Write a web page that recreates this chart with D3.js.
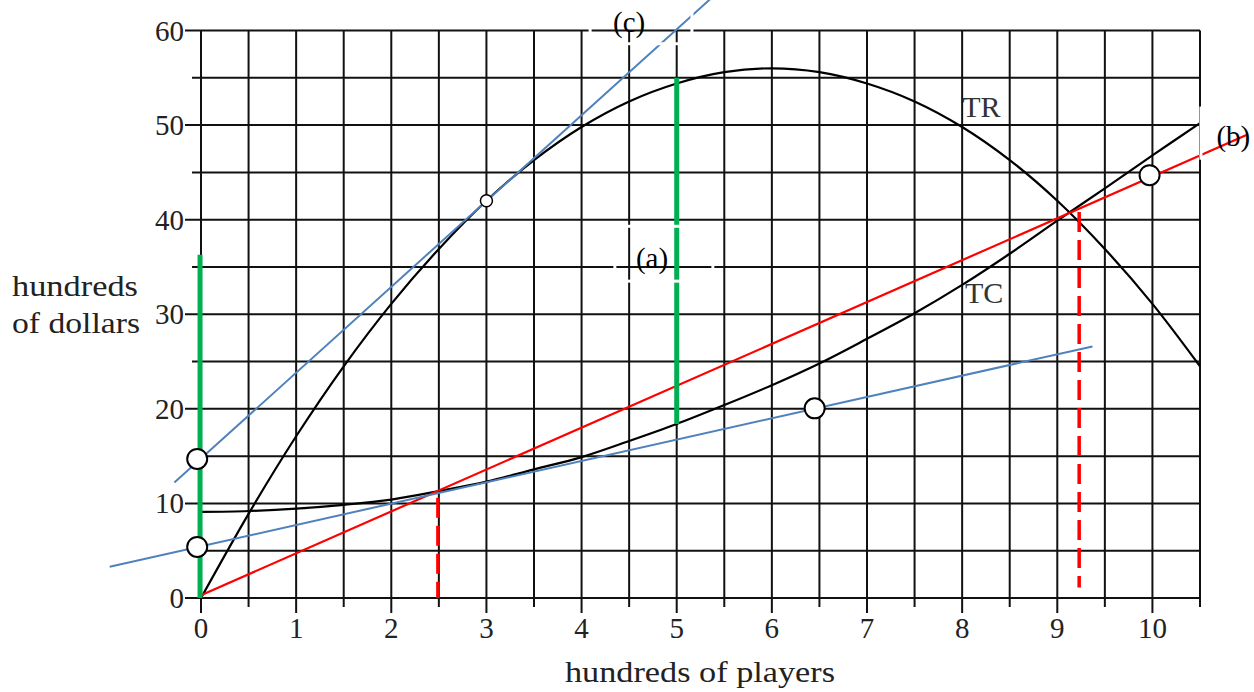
<!DOCTYPE html>
<html>
<head>
<meta charset="utf-8">
<script src="https://cdn.jsdelivr.net/npm/d3@7"></script>
<style>
  body { margin: 0; background: #fff; }
  svg { display: block; }
</style>
</head>
<body>
<svg id="chart" width="1254" height="692"></svg>
<script>
// values (x in hundreds of players, y in hundreds of dollars)
const playersX = [0, 0.5, 1, 1.5, 2, 2.5, 3, 3.5, 4, 4.5, 5, 5.5, 6, 6.5, 7, 7.5, 8, 8.5, 9, 9.5, 10, 10.5];
const trValues = [0, 8.9, 17.1, 24.5, 31.1, 36.9, 42, 46.3, 49.8, 52.5, 54.4, 55.6, 56, 55.6, 54.4, 52.5, 49.8, 46.3, 42, 36.9, 31.1, 24.5];
const tcValues = [9.1, 9.2, 9.45, 9.85, 10.4, 11.3, 12.3, 13.6, 14.9, 16.6, 18.4, 20.4, 22.5, 24.8, 27.4, 30.1, 33.1, 36.4, 39.9, 43.3, 46.8, 50.2];

const xTickLabels = [0, 1, 2, 3, 4, 5, 6, 7, 8, 9, 10];
const yTickLabels = [0, 10, 20, 30, 40, 50, 60];

const redLine = [[0, 0.3], [11.0, 49.0]];
const blueTangent = [[-0.28, 12.2], [5.35, 63.3]];
const blueLower = [[-0.96, 3.3], [9.37, 26.6]];
const greenBars = [[-0.01, 0, 36.3], [5, 18.4, 55]];
const redDashes = [[2.49, 0, 10.6], [9.23, 1.1, 40.8]];
const dots = [[-0.04, 14.7, 10], [-0.04, 5.4, 10], [6.45, 20.05, 10], [9.97, 44.7, 10], [3, 42, 6]];

const curveLabels = [
  { text: "TR", x: 8.0, y: 50.9 },
  { text: "TC", x: 8.03, y: 31.2 }
];
// labels with a white frame drawn round them
const boxLabels = [
  { text: "(c)", x: 4.5, y: 59.8, box: [4.09, 5.16, 58.6, 64.5] },
  { text: "(a)", x: 4.74, y: 34.9, box: [4.35, 5.38, 33.5, 39.3] },
  { text: "(b)", x: 10.85, y: 47.8, box: [10.51, 11.2, 46.5, 51.8] }
];

const svg = d3.select("#chart")
  .attr("font-family", "'Liberation Serif', 'DejaVu Serif', serif");
const x = d3.scaleLinear().domain([0, 10.5]).range([201, 1200]);
const y = d3.scaleLinear().domain([0, 60]).range([598, 30.5]);

const grid = svg.append("g").attr("stroke", "#111").attr("stroke-width", 2);

// vertical grid lines + ticks below the axis
d3.range(0, 10.51, 0.5).forEach(v => {
  const major = Number.isInteger(v);
  grid.append("line")
    .attr("x1", x(v)).attr("x2", x(v))
    .attr("y1", y(60)).attr("y2", y(0) + (major ? 15 : 9));
});
// horizontal grid lines + ticks left of the axis
d3.range(0, 60.1, 5).forEach(v => {
  const major = v % 10 === 0;
  grid.append("line")
    .attr("x1", x(0) - (major ? 16 : 9)).attr("x2", x(10.5))
    .attr("y1", y(v)).attr("y2", y(v));
});

svg.append("g").selectAll("text")
  .data(xTickLabels).enter().append("text")
  .attr("x", d => x(d)).attr("y", 638)
  .attr("text-anchor", "middle")
  .attr("font-size", 29).attr("fill", "#222")
  .text(d => d);

svg.append("g").selectAll("text")
  .data(yTickLabels).enter().append("text")
  .attr("x", x(0) - 17).attr("y", d => y(d) + 10)
  .attr("text-anchor", "end")
  .attr("font-size", 29).attr("fill", "#222")
  .text(d => d);

svg.append("text").attr("x", 700).attr("y", 682)
  .attr("text-anchor", "middle").attr("font-size", 29).attr("fill", "#222")
  .attr("textLength", 270).attr("lengthAdjust", "spacingAndGlyphs")
  .text("hundreds of players");
svg.append("text").attr("x", 12).attr("y", 296)
  .attr("font-size", 29).attr("fill", "#222")
  .attr("textLength", 126).attr("lengthAdjust", "spacingAndGlyphs")
  .text("hundreds");
svg.append("text").attr("x", 12).attr("y", 333)
  .attr("font-size", 29).attr("fill", "#222")
  .attr("textLength", 128).attr("lengthAdjust", "spacingAndGlyphs")
  .text("of dollars");

const curve = d3.line()
  .x(d => x(d[0])).y(d => y(d[1]))
  .curve(d3.curveCatmullRom);
const straight = d3.line().x(d => x(d[0])).y(d => y(d[1]));

svg.append("path")
  .datum(playersX.map((v, i) => [v, trValues[i]]))
  .attr("d", curve).attr("fill", "none")
  .attr("stroke", "#000").attr("stroke-width", 2.2);
svg.append("path")
  .datum(playersX.map((v, i) => [v, tcValues[i]]))
  .attr("d", curve).attr("fill", "none")
  .attr("stroke", "#000").attr("stroke-width", 2.2);

svg.append("path").datum(redLine).attr("d", straight)
  .attr("stroke", "#ff0000").attr("stroke-width", 2.2).attr("fill", "none");

svg.selectAll("line.dash")
  .data(redDashes).enter().append("line")
  .attr("class", "dash")
  .attr("x1", d => x(d[0])).attr("x2", d => x(d[0]))
  .attr("y1", d => y(d[2])).attr("y2", d => y(d[1]))
  .attr("stroke", "#ff0000").attr("stroke-width", 3.5)
  .attr("stroke-dasharray", "20,8");

[blueTangent, blueLower].forEach(seg => {
  svg.append("path").datum(seg).attr("d", straight)
    .attr("stroke", "#4f81bd").attr("stroke-width", 2).attr("fill", "none");
});

svg.selectAll("line.green")
  .data(greenBars).enter().append("line")
  .attr("class", "green")
  .attr("x1", d => x(d[0])).attr("x2", d => x(d[0]))
  .attr("y1", d => y(d[1])).attr("y2", d => y(d[2]))
  .attr("stroke", "#00b050").attr("stroke-width", 5);

svg.selectAll("circle")
  .data(dots).enter().append("circle")
  .attr("cx", d => x(d[0])).attr("cy", d => y(d[1]))
  .attr("r", d => d[2])
  .attr("fill", "#fff").attr("stroke", "#000")
  .attr("stroke-width", d => d[2] > 8 ? 2 : 1.5);

svg.selectAll("text.curve")
  .data(curveLabels).enter().append("text")
  .attr("class", "curve")
  .attr("x", d => x(d.x)).attr("y", d => y(d.y))
  .attr("font-size", 30).attr("fill", "#333")
  .text(d => d.text);

const bl = svg.selectAll("g.boxlabel").data(boxLabels).enter().append("g").attr("class", "boxlabel");
bl.append("rect")
  .attr("x", d => x(d.box[0])).attr("width", d => x(d.box[1]) - x(d.box[0]))
  .attr("y", d => y(d.box[3])).attr("height", d => y(d.box[2]) - y(d.box[3]))
  .attr("fill", "none").attr("stroke", "#fff").attr("stroke-width", 3);
bl.append("text")
  .attr("x", d => x(d.x)).attr("y", d => y(d.y))
  .attr("text-anchor", "middle").attr("font-size", 29).attr("fill", "#000")
  .text(d => d.text);
</script>
</body>
</html>
